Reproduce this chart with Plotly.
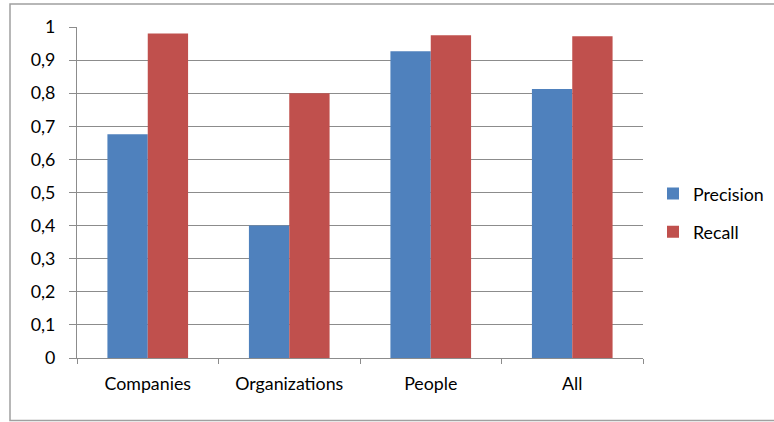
import plotly.graph_objects as go

categories = ["Companies", "Organizations", "People", "All"]
precision = [0.676, 0.40, 0.927, 0.813]
recall = [0.980, 0.80, 0.975, 0.972]

W, H = 774, 422
L, R, T, B = 77, 131, 27, 64
pw, ph = W - L - R, H - T - B

FONT = "Lato"
FS = 17.8
grid = "#8c8c8c"

fig = go.Figure()
fig.add_trace(go.Bar(name="Precision", x=categories, y=precision,
                     marker=dict(color="#4F81BD", line=dict(width=0)),
                     legendgroup="p"))
fig.add_trace(go.Bar(name="Recall", x=categories, y=recall,
                     marker=dict(color="#C0504D", line=dict(width=0)),
                     legendgroup="r"))

# outer chart border
fig.add_shape(type="rect", xref="paper", yref="paper",
              x0=(10 - L) / pw, x1=(790 - L) / pw,
              y0=(T + ph - 420.5) / ph, y1=(T + ph - 4) / ph,
              line=dict(color="#a0a0a0", width=1.5), fillcolor="rgba(0,0,0,0)",
              layer="below")

fig.update_layout(
    width=W, height=H,
    margin=dict(l=L, r=R, t=T, b=B, pad=0, autoexpand=False),
    paper_bgcolor="white", plot_bgcolor="white",
    separators=",.",
    barmode="group", bargap=0.43, bargroupgap=0,
    font=dict(family=FONT, size=FS, color="black"),
    showlegend=True,
    legend=dict(x=(653 - L) / pw, y=(T + ph - 213) / ph, xanchor="left", yanchor="middle",
                font=dict(family=FONT, size=FS, color="black"),
                tracegroupgap=12, itemwidth=30, bgcolor="rgba(0,0,0,0)"),
    xaxis=dict(showline=True, linecolor=grid, linewidth=1,
               ticks="outside", ticklen=5, tickcolor=grid,
               tickson="boundaries", showgrid=False,
               ticklabelstandoff=10, mirror=False),
    yaxis=dict(range=[0, 1], dtick=0.1, tick0=0,
               showgrid=True, gridcolor=grid, gridwidth=1,
               showline=True, linecolor=grid, linewidth=1,
               ticks="outside", ticklen=7, tickcolor=grid,
               ticklabelstandoff=10, zeroline=False),
)

fig.write_html("out.html")
